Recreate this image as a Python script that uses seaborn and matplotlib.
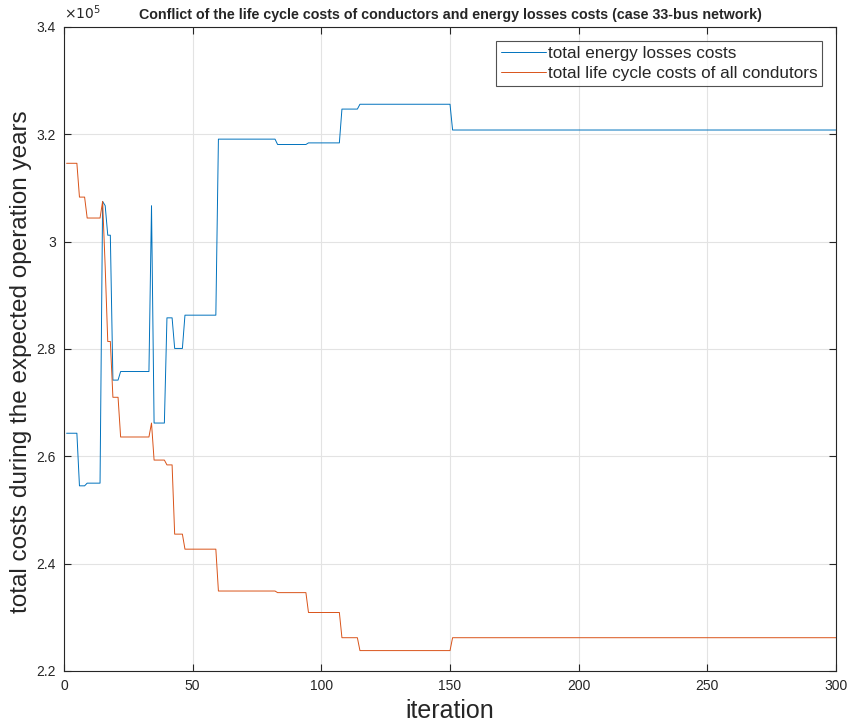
import matplotlib
matplotlib.use("Agg")
import numpy as np
import pandas as pd
import matplotlib.pyplot as plt
import seaborn as sns
from matplotlib.ticker import FuncFormatter, MultipleLocator

# runs of constant cost: first and last iteration of each run
run_start = [1, 6, 9, 15, 16, 17, 19, 22, 34, 35, 40, 43, 47, 60, 83, 95, 108, 115, 151]
run_end = [5, 8, 14, 15, 16, 18, 21, 33, 34, 39, 42, 46, 59, 82, 94, 107, 114, 150, 300]

# costs in units of 1e5
energy_losses = [2.643, 2.545, 2.550, 3.075, 3.067, 3.012, 2.742, 2.758, 3.067, 2.662,
                 2.858, 2.801, 2.863, 3.191, 3.181, 3.184, 3.247, 3.256, 3.208]
life_cycle = [3.146, 3.083, 3.044, 3.075, 2.953, 2.814, 2.710, 2.636, 2.662, 2.593,
              2.584, 2.455, 2.427, 2.349, 2.346, 2.309, 2.262, 2.238, 2.262]

labels = ["total energy losses costs", "total life cycle costs of all condutors"]
colors = ["#0072BD", "#D95319"]


def runs_to_frame(values, label):
    xs, ys = [], []
    for s, e, v in zip(run_start, run_end, values):
        xs += [s, e]
        ys += [v * 1e5, v * 1e5]
    return pd.DataFrame({"iteration": xs, "cost": ys, "series": label})


df = pd.concat([runs_to_frame(energy_losses, labels[0]),
                runs_to_frame(life_cycle, labels[1])], ignore_index=True)

sns.set_style("ticks")
plt.rcParams["font.family"] = ["Liberation Sans", "DejaVu Sans"]

fig = plt.figure(figsize=(8.49, 7.25), dpi=100)
ax = fig.add_axes([0.0754, 0.0745, 0.9093, 0.8883])

sns.lineplot(data=df, x="iteration", y="cost", hue="series", palette=colors,
             estimator=None, sort=False, linewidth=0.7, ax=ax)

ax.set_xlim(0, 300)
ax.set_ylim(2.2e5, 3.4e5)
ax.xaxis.set_major_locator(MultipleLocator(50))
ax.yaxis.set_major_locator(MultipleLocator(0.2e5))
ax.yaxis.set_major_formatter(FuncFormatter(lambda v, _: f"{v / 1e5:g}"))
ax.grid(True, color="#e3e3e3", linewidth=0.8)
ax.set_axisbelow(True)

for sp in ax.spines.values():
    sp.set_visible(True)
    sp.set_color("#262626")
    sp.set_linewidth(0.8)
ax.tick_params(direction="in", length=5, width=0.8, top=True, right=True,
               labelsize=10, colors="#262626", pad=6)

ax.text(0.0, 1.008, r"$\times10^5$", transform=ax.transAxes, fontsize=10,
        color="#262626", ha="left", va="bottom")

ax.set_title("Conflict of the life cycle costs of conductors and energy losses costs (case 33-bus network)",
             fontsize=10.3, fontweight="bold", pad=6)
ax.set_xlabel("iteration", fontsize=18, color="#262626")
ax.set_ylabel("total costs during the expected operation years", fontsize=17.5, color="#262626")
ax.yaxis.set_label_coords(-0.042, 0.48)

leg = ax.legend(loc="upper right", fontsize=12.3, frameon=True, fancybox=False,
                handlelength=2.6, handletextpad=0.1, borderpad=0.3, labelspacing=0.3,
                borderaxespad=0.8, title=None)
leg.get_frame().set_edgecolor("#262626")
leg.get_frame().set_linewidth(0.8)

fig.savefig("out.png", dpi=100)
